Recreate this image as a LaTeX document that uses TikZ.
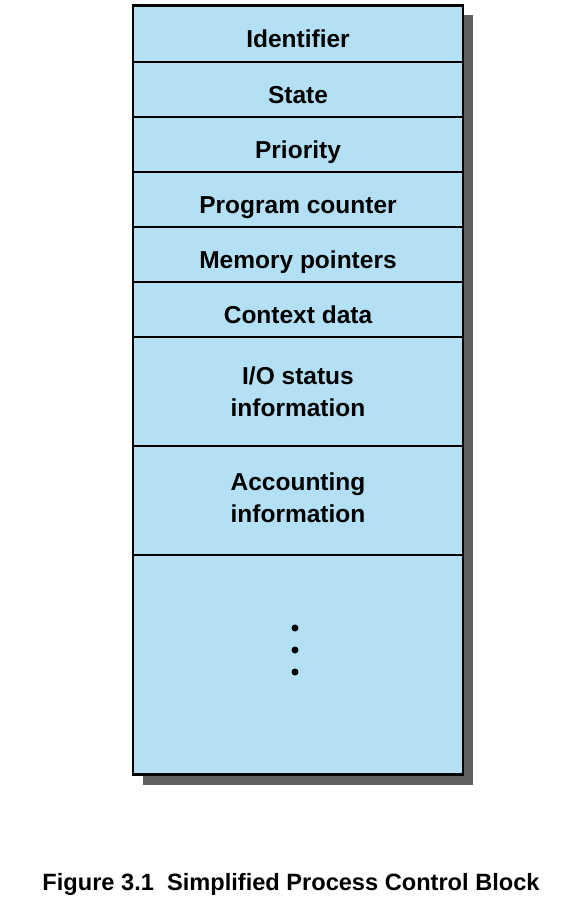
\documentclass[tikz,border=0pt]{standalone}
\usepackage{fontspec}
\setmainfont{Liberation Sans}
\definecolor{pcbfill}{HTML}{B3E0F4}
\definecolor{pcbshadow}{HTML}{606060}
\begin{document}
\begin{tikzpicture}[x=1pt,y=-1pt,
  row/.style={draw=black,line width=2pt,fill=pcbfill,minimum width=330pt,inner sep=0pt,
    font=\fontsize{24.5}{32}\selectfont\bfseries,align=center,anchor=north},
  onerow/.style={row,minimum height=55pt,text height=27pt,text depth=0pt},
  dot/.style={circle,fill=black,inner sep=0pt,minimum size=7pt}]
\useasboundingbox (0,0) rectangle (580,914);
\fill[pcbshadow] (143,15) rectangle (473,785);
\node[onerow,minimum height=56pt] (id)   at (298,5)   {Identifier};
\node[onerow] (st)   at (298,61)  {State};
\node[onerow] (pr)   at (298,116) {Priority};
\node[onerow] (pc)   at (298,171) {Program counter};
\node[onerow] (mp)   at (298,226) {Memory pointers};
\node[onerow] (cd)   at (298,281) {Context data};
\node[row,minimum height=109pt] (io)  at (298,336) {I/O status\\information};
\node[row,minimum height=109pt,text depth=6pt] (ac)  at (298,445) {Accounting\\information};
\node[row,minimum height=220pt] (rest) at (298,554) {};
\node[dot] (d1) at (295,628) {};
\node[dot] (d2) at (295,650) {};
\node[dot] (d3) at (295,672) {};
\draw[line width=2.5pt] (133,5) rectangle (463,774);
\node[font=\fontsize{23.6}{28}\selectfont\bfseries] (cap) at (291,884) {Figure 3.1\ \ Simplified Process Control Block};
\end{tikzpicture}
\end{document}
